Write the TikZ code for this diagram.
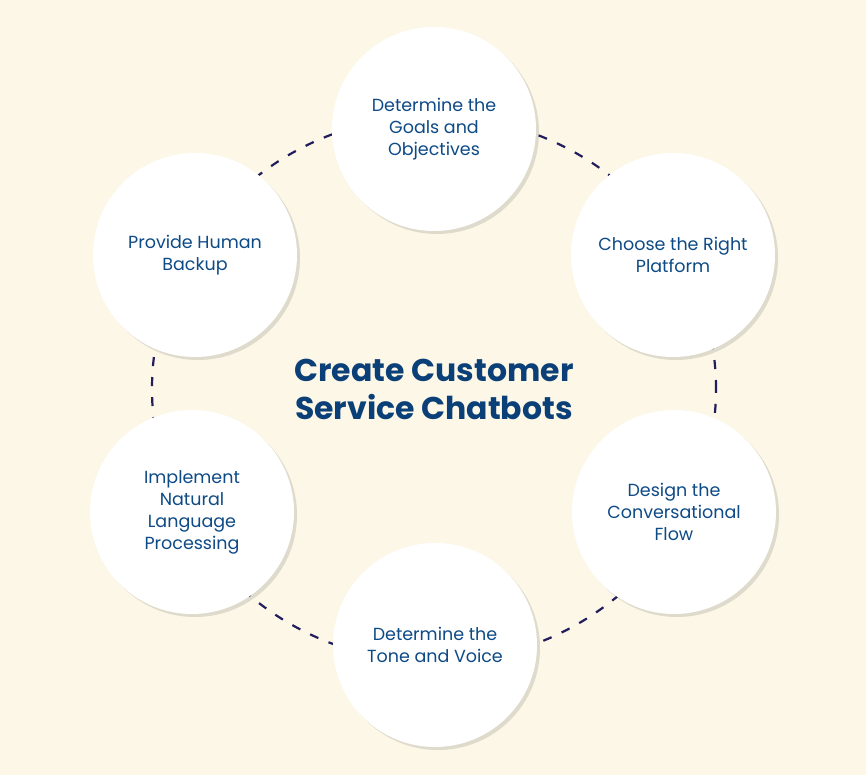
\documentclass[tikz,border=0pt]{standalone}
\usepackage{fontspec}
\setmainfont{Poppins}
\usetikzlibrary{shadows}
\usepackage{xcolor}
\definecolor{cream}{HTML}{FCF7E6}
\definecolor{inkblue}{HTML}{0D4A86}
\definecolor{titleblue}{HTML}{0A3F78}
\definecolor{navy}{HTML}{221D5C}

\begin{document}
\begin{tikzpicture}[x=1pt, y=1pt,
    stage/.style={circle, fill=white, minimum size=204pt, inner sep=0pt,
      align=center, text=inkblue, font=\fontsize{17.5}{22}\selectfont,
      drop shadow={shadow xshift=3pt, shadow yshift=-3pt, opacity=0.2,
        fill=black!60}},
    heading/.style={align=center, text=titleblue,
      font=\fontsize{31.5}{38}\selectfont\bfseries},
    ring/.style={draw=navy, line width=2.2pt, dash pattern=on 9pt off 11pt},
  ]

    % Background, fixes the page size
    \fill[cream] (-434,-388) rectangle (432,387);
    \useasboundingbox (-434,-388) rectangle (432,387);

    % Title in the middle
    \node[heading] (title) at (0,-2) {Create Customer\\Service Chatbots};

    % Dashed ring behind the stages
    \draw[ring] (title.center) ellipse [x radius=282, y radius=273];

    % Stages round the ring, clockwise from the top
    \node[stage] (goals)    at (0,258)     {Determine the\\Goals and\\Objectives};
    \node[stage] (platform) at (239,132)   {Choose the Right\\Platform};
    \node[stage] (flow)     at (240,-125)  {Design the\\Conversational\\Flow};
    \node[stage] (tone)     at (1,-258)    {Determine the\\Tone and Voice};
    \node[stage] (nlp)      at (-242,-125) {Implement\\Natural\\Language\\Processing};
    \node[stage] (backup)   at (-239,132)  {Provide Human\\Backup};

  \end{tikzpicture}
\end{document}
